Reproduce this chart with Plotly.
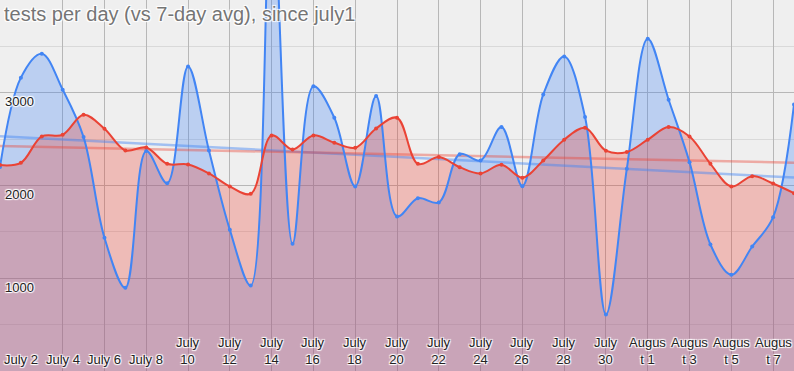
import numpy as np
import pandas as pd
import plotly.graph_objects as go

dates = pd.date_range("2020-07-01", "2020-08-08", freq="D")

tests_per_day = [2200, 3163, 3421, 3033, 2522, 1436, 897, 2371, 2025, 3284,
                 2378, 1522, 921, 5200, 1371, 3069, 2731, 1990, 2964, 1666,
                 1863, 1817, 2338, 2270, 2630, 1993, 2982, 3392, 2738, 609,
                 2181, 3583, 2925, 2252, 1364, 1037, 1342, 1658, 2874]

avg_7day = [2220, 2245, 2529, 2547, 2763, 2612, 2378, 2410, 2234, 2227,
            2130, 1990, 1911, 2540, 2389, 2540, 2461, 2407, 2615, 2731,
            2234, 2306, 2198, 2130, 2224, 2084, 2270, 2494, 2623, 2375,
            2360, 2494, 2630, 2529, 2234, 1990, 2101, 2022, 1917]

tick_dates = pd.date_range("2020-07-02", "2020-08-07", freq="2D")
tick_labels = ["July 2", "July 4", "July 6", "July 8", "July<br>10", "July<br>12",
               "July<br>14", "July<br>16", "July<br>18", "July<br>20", "July<br>22",
               "July<br>24", "July<br>26", "July<br>28", "July<br>30",
               "Augus<br>t 1", "Augus<br>t 3", "Augus<br>t 5", "Augus<br>t 7"]

y_tick_vals = [1000, 2000, 3000, 4000]
y_tick_text = ["1000", "2000", "3000", ""]
y_minor_vals = [500, 1500, 2500, 3500]

title_text = "tests per day (vs 7-day avg), since july1"

BLUE = "#4285F4"
RED = "#EA4335"
halo = "1px 1px 1px #fff, -1px -1px 1px #fff, 1px -1px 1px #fff, -1px 1px 1px #fff"
FONT = "Arial, 'Liberation Sans', sans-serif"

days = np.arange(len(dates))
fig = go.Figure()

# fills first
fig.add_trace(go.Scatter(x=dates, y=tests_per_day, mode="lines",
                         line=dict(width=0, shape="spline", smoothing=1.0),
                         fill="tozeroy", fillcolor="rgba(66,133,244,0.30)",
                         hoverinfo="skip"))
fig.add_trace(go.Scatter(x=dates, y=avg_7day, mode="lines",
                         line=dict(width=0, shape="spline", smoothing=1.0),
                         fill="tozeroy", fillcolor="rgba(234,67,53,0.30)",
                         hoverinfo="skip"))

# trend lines
for vals, col in [(tests_per_day, "rgba(66,133,244,0.45)"), (avg_7day, "rgba(234,67,53,0.40)")]:
    m, b = np.polyfit(days, vals, 1)
    ends = [days[0], days[-1]]
    fig.add_trace(go.Scatter(x=[dates[0], dates[-1]], y=[m * e + b for e in ends],
                             mode="lines", line=dict(color=col, width=2.5),
                             hoverinfo="skip"))

# data lines
fig.add_trace(go.Scatter(x=dates, y=tests_per_day, mode="lines+markers",
                         line=dict(color=BLUE, width=2, shape="spline", smoothing=1.0),
                         marker=dict(color=BLUE, size=4), name="tests per day"))
fig.add_trace(go.Scatter(x=dates, y=avg_7day, mode="lines+markers",
                         line=dict(color=RED, width=2, shape="spline", smoothing=1.0),
                         marker=dict(color=RED, size=4), name="7-day avg"))

annotations = [dict(text=title_text, xref="paper", yref="paper", x=0, y=1,
                    xanchor="left", yanchor="top", xshift=2, yshift=-1,
                    showarrow=False,
                    font=dict(family=FONT, size=20, color="#757575", shadow=halo))]
for d, lab in zip(tick_dates, tick_labels):
    annotations.append(dict(text=lab, x=d, xref="x", y=0, yref="paper",
                            xanchor="center", yanchor="bottom", yshift=2,
                            showarrow=False, align="center",
                            font=dict(family=FONT, size=13, color="#222222", shadow=halo)))

fig.update_layout(
    width=794, height=371,
    margin=dict(l=0, r=0, t=0, b=0, pad=0, autoexpand=False),
    paper_bgcolor="#efefef", plot_bgcolor="#efefef",
    showlegend=False,
    font=dict(family=FONT, size=13, color="#222222"),
    annotations=annotations,
)

fig.update_xaxes(
    range=[dates[0], dates[-1]],
    tickvals=tick_dates, showticklabels=False, ticks="",
    showgrid=True, gridcolor="#b7b7b7", gridwidth=1,
    zeroline=False, showline=False, automargin=False,
)
fig.update_yaxes(
    range=[0, 4000],
    tickvals=y_tick_vals, ticktext=y_tick_text,
    ticklabelposition="inside bottom", ticks="", ticklabelstandoff=2,
    showgrid=True, gridcolor="#b7b7b7", gridwidth=1,
    minor=dict(tickvals=y_minor_vals, showgrid=True, gridcolor="#d9d9d9", ticks=""),
    zeroline=False, showline=False, automargin=False,
    tickfont=dict(family=FONT, size=13, color="#222222", shadow=halo),
)

fig.write_html("out.html", config={"displayModeBar": False},
               post_script="document.body.style.margin='0';document.body.style.overflow='hidden';")
